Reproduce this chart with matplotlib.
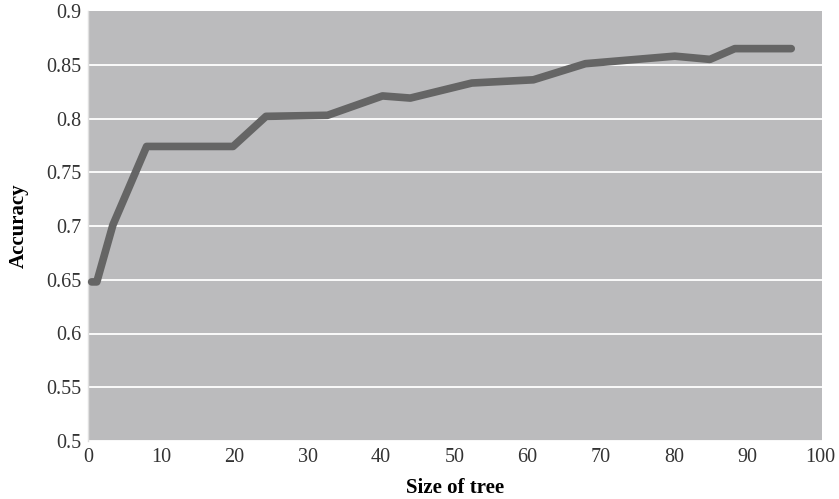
import matplotlib
matplotlib.use('Agg')
from matplotlib import pyplot as plt

# accuracy vs size of tree
tree_size=[0.5,1.2,3.4,8.0,19.8,24.3,32.7,40.2,44.0,52.4,60.8,67.9,80.1,84.9,88.3,96.0]
accuracy=[0.648,0.648,0.701,0.774,0.774,0.802,0.803,0.821,0.819,0.833,0.836,0.851,0.858,0.855,0.865,0.865]

yticks=[0.5,0.55,0.6,0.65,0.7,0.75,0.8,0.85,0.9]
ylabels=['0.5','0.55','0.6','0.65','0.7','0.75','0.8','0.85','0.9']
xticks=[0,10,20,30,40,50,60,70,80,90,100]

plt.rcParams['font.family']=['Liberation Serif','DejaVu Serif']

fig=plt.figure(figsize=(8.39,4.99),dpi=100)
ax=fig.add_axes([88/839,58/499,734/839,430/499])
ax.set_facecolor('#bbbbbd')

ax.plot(tree_size,accuracy,color='#656565',lw=5.5,solid_capstyle='round',solid_joinstyle='round',clip_on=False,zorder=3)

ax.set_xlim(0,100.2)
ax.set_ylim(0.5,0.9)
ax.set_xticks(xticks)
ax.set_yticks(yticks)
ax.set_yticklabels(ylabels)
ax.tick_params(length=0,labelsize=14.5,colors='#333333',pad=5)
for y in yticks[:-1]:
    ax.axhline(y,color='white',lw=1.3,zorder=1)

for s in ['top','right','bottom']:
    ax.spines[s].set_visible(False)
ax.spines['left'].set_color('#e0e0e0')
ax.spines['left'].set_linewidth(1)

ax.set_xlabel('Size of tree',fontsize=15,fontweight='bold',labelpad=8)
ax.set_ylabel('Accuracy',fontsize=15,fontweight='bold',labelpad=12)

plt.savefig('out.png',dpi=100)
